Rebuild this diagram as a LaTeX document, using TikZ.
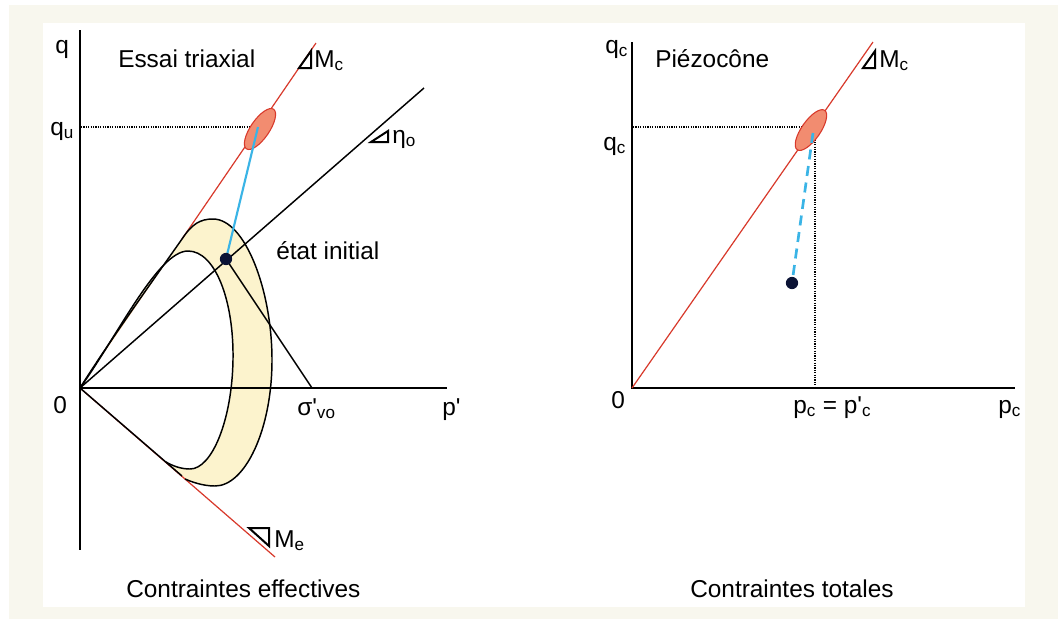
\documentclass[tikz,border=0pt]{standalone}
\usepackage{fontspec}
\setmainfont{Liberation Sans}[Ligatures=TeXOff]
\definecolor{cream}{HTML}{F8F7EE}
\definecolor{bandc}{HTML}{FCF3CD}
\definecolor{slivc}{HTML}{F0BC80}
\definecolor{redc}{HTML}{D8392B}
\definecolor{ellc}{HTML}{F28C70}
\definecolor{bluec}{HTML}{3AB4E6}
\definecolor{dotc}{HTML}{0B1335}
\begin{document}
\begin{tikzpicture}[x=0.75pt,y=-0.75pt,
  lbl/.style={inner sep=0pt, font=\fontsize{18.3}{22}\selectfont, anchor=base west},
  ax/.style={line width=1.5pt},
  blk/.style={line width=1.1pt},
  redl/.style={draw=redc, line width=0.9pt},
  dotl/.style={dash pattern=on 0.9pt off 0.9pt, line width=0.9pt},
  ell/.style={draw=redc, fill=ellc, line width=0.8pt},
  pt/.style={fill=dotc, radius=4.6pt},
  tri/.style={line width=1.5pt, line join=miter}]
\useasboundingbox (0,0) rectangle (1058,619);
\fill[cream] (9,5) rectangle (1058,619);
\fill[white] (43,23) rectangle (1025,607);

% ---------- left panel ----------
\coordinate (O) at (80,388);
\coordinate (Ytop) at (80,30);
\coordinate (Ybot) at (80,550);
\coordinate (Xend) at (447,388);
\coordinate (Mc) at (316,43);
\coordinate (T) at (182,239);
\coordinate (Eta) at (424,88);
\coordinate (Me) at (275,557);
\coordinate (Mej) at (182,476);
\coordinate (P) at (226,259);
\coordinate (S) at (312,388);
\coordinate (E1) at (260,129);
\coordinate (Qa) at (81,127);
\coordinate (Qb) at (258,127);

% band
\fill[bandc, even odd rule]
  (O) .. controls (110,340) and (166,262) .. (T) .. controls (192,224) and (200,219) .. (213,219)
      .. controls (245,219) and (272,290) .. (272,360) .. controls (272,430) and (245,486) .. (215,486)
      .. controls (203,486) and (192,482) .. (185,479) -- cycle
  (O) .. controls (118,335) and (158,251) .. (188,251) .. controls (215,251) and (234,300) .. (233,360)
      .. controls (232,420) and (212,469) .. (190,469) .. controls (181,469) and (173,466) .. (166,462) -- cycle;
\fill[slivc] (O) .. controls (110,340) and (166,262) .. (T) -- cycle;
\draw[redl] (T) -- (Mc);
\draw[redl] (O) -- (Me);
\draw[blk] (O) .. controls (110,340) and (166,262) .. (T) .. controls (192,224) and (200,219) .. (213,219)
      .. controls (245,219) and (272,290) .. (272,360) .. controls (272,430) and (245,486) .. (215,486)
      .. controls (203,486) and (192,482) .. (185,479);
\draw[blk] (O) .. controls (118,335) and (158,251) .. (188,251) .. controls (215,251) and (234,300) .. (233,360)
      .. controls (232,420) and (212,469) .. (190,469) .. controls (181,469) and (173,466) .. (166,462);
\draw[blk] (O) -- (Mej);
\draw[ax] (Ytop) -- (Ybot);
\draw[ax] (O) -- (Xend);
\draw[blk] (O) -- (Eta);
\draw[blk] (P) -- (S);
\draw[dotl] (Qa) -- (Qb);
\draw[ell, rotate around={55.6:(E1)}] (E1) ellipse [x radius=18pt, y radius=7pt];
\draw[bluec, line width=1.6pt] (Qb) -- (P);
\fill[pt] (P) circle;

% slope triangles
\draw[tri] (299,68) -- (311,51) -- (311,68) -- cycle;
\draw[tri] (371,142) -- (388,131) -- (388,142) -- cycle;
\draw[tri] (249,528) -- (269,528) -- (269,546) -- cycle;

% labels
\node[lbl] (lq) at (55,53) {q};
\node[lbl] (lqu) at (50,135) {q\textsubscript{u}};
\node[lbl] (l0) at (53,413) {0};
\node[lbl] (lsig) at (297,415) {σ'\textsubscript{vo}};
\node[lbl] (lp) at (442,415) {p'};
\node[lbl] (ltit) at (118,67) {Essai triaxial};
\node[lbl] (lmc) at (314,67) {M\textsubscript{c}};
\node[lbl] (leta) at (392,143) {η\textsubscript{o}};
\node[lbl] (letat) at (276,259) {état initial};
\node[lbl] (lme) at (274,547) {M\textsubscript{e}};
\node[lbl] (lce) at (126,597) {Contraintes effectives};

% ---------- right panel ----------
\coordinate (O2) at (632,388);
\coordinate (Ytop2) at (632,42);
\coordinate (Xend2) at (1015,388);
\coordinate (Mc2) at (873,42);
\coordinate (E2) at (811,130);
\coordinate (P2) at (792,283);
\coordinate (B2) at (813,133);
\coordinate (Qa2) at (633,127);
\coordinate (Qc2) at (815,127);
\coordinate (Qd2) at (815,388);

\draw[ax] (Ytop2) -- (O2) -- (Xend2);
\draw[redl] (O2) -- (Mc2);
\draw[dotl] (Qa2) -- (Qc2) -- (Qd2);
\draw[ell, rotate around={55.1:(E2)}] (E2) ellipse [x radius=18pt, y radius=7pt];
\draw[bluec, line width=2pt, dash pattern=on 7.5pt off 5pt] (B2) -- (P2);
\fill[pt] (P2) circle;
\draw[tri] (863,68) -- (875,51) -- (875,68) -- cycle;

\node[lbl] (rq) at (605,53) {q\textsubscript{c}};
\node[lbl] (rqc) at (603,150) {q\textsubscript{c}};
\node[lbl] (r0) at (611,408) {0};
\node[lbl] (rpc) at (793,413) {p\textsubscript{c} = p'\textsubscript{c}};
\node[lbl] (rp) at (998,413) {p\textsubscript{c}};
\node[lbl] (rtit) at (655,67) {Piézocône};
\node[lbl] (rmc) at (879,67) {M\textsubscript{c}};
\node[lbl] (rct) at (690,597) {Contraintes totales};
\end{tikzpicture}
\end{document}
